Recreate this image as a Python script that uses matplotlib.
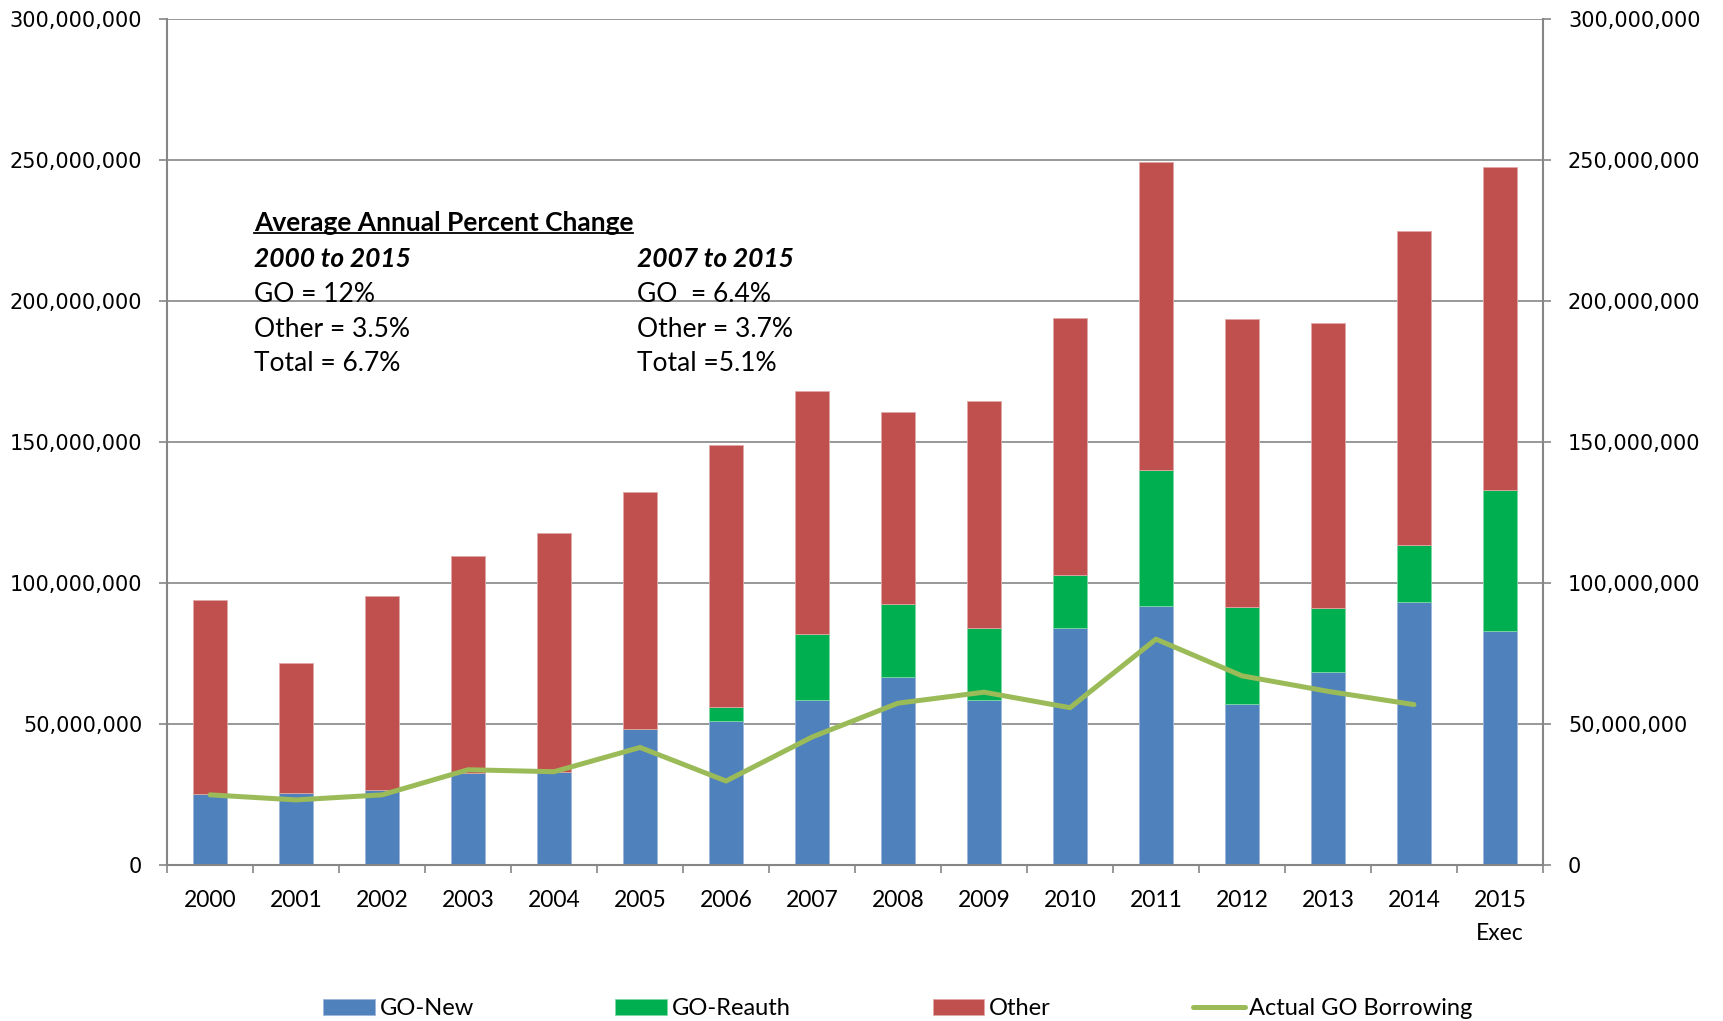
import numpy as np
import matplotlib
matplotlib.use("Agg")
import matplotlib.pyplot as plt
from matplotlib.ticker import FuncFormatter, MultipleLocator
from matplotlib.lines import Line2D

# ---------------------------------------------------------
# Data (millions of dollars)
# ---------------------------------------------------------
years = ["2000", "2001", "2002", "2003", "2004", "2005", "2006", "2007",
         "2008", "2009", "2010", "2011", "2012", "2013", "2014", "2015\nExec"]
go_new = [25.1, 25.4, 26.6, 32.5, 33.0, 48.1, 51.0, 58.5,
          66.7, 58.6, 83.9, 91.6, 57.0, 68.5, 93.1, 82.8]
go_reauth = [0, 0, 0, 0, 0, 0, 4.9, 23.4,
             25.9, 25.3, 18.8, 48.5, 34.4, 22.7, 20.2, 50.1]
other = [68.8, 46.1, 68.6, 77.0, 84.7, 84.0, 92.8, 86.0,
         67.8, 80.7, 91.3, 109.1, 102.2, 100.8, 111.3, 114.5]
actual_go = [24.8, 23.0, 24.8, 33.7, 33.0, 41.6, 29.7, 45.3,
             57.3, 61.2, 55.7, 80.0, 67.0, 61.5, 56.8]

M = 1e6
new = np.array(go_new) * M
reauth = np.array(go_reauth) * M
oth = np.array(other) * M
borrow = np.array(actual_go) * M
x = np.arange(len(years))

BLUE = "#4F81BD"
GREEN = "#00B050"
RED = "#C0504D"
LINE = "#9BBB59"
GRID = "#868686"

# ---------------------------------------------------------
# Figure
# ---------------------------------------------------------
fig = plt.figure(figsize=(17.23, 10.21), dpi=100)
ax = fig.add_axes([0.097, 0.153, 0.7985, 0.8287])

w = 0.4
ax.bar(x, new, w, color=BLUE, edgecolor="#9DB7D9", linewidth=0.6, label="GO-New", zorder=2)
ax.bar(x, reauth, w, bottom=new, color=GREEN, edgecolor="#7FD7A6", linewidth=0.6,
       label="GO-Reauth", zorder=2)
ax.bar(x, oth, w, bottom=new + reauth, color=RED, edgecolor="#E0A8A6", linewidth=0.6,
       label="Other", zorder=2)
ax.plot(x[:len(borrow)], borrow, color=LINE, linewidth=3.6, solid_capstyle="round",
        label="Actual GO Borrowing", zorder=3)

ax.set_xlim(-0.5, len(years) - 0.5)
ax.set_ylim(0, 300 * M)
ax.yaxis.set_major_locator(MultipleLocator(50 * M))
fmt = FuncFormatter(lambda v, p: f"{v:,.0f}")
ax.yaxis.set_major_formatter(fmt)
ax.grid(axis="y", color=GRID, linewidth=1.2, zorder=0)
ax.set_axisbelow(True)

# x ticks: labels at centers, tick marks at category borders
ax.set_xticks(x)
ax.set_xticklabels(years, fontfamily="Lato", fontsize=16.5, linespacing=1.7)
ax.set_xticks(np.arange(-0.5, len(years)), minor=True)
ax.tick_params(axis="x", which="major", length=0, pad=18)
ax.tick_params(axis="x", which="minor", length=6, width=1.2, color=GRID, direction="out")
ax.tick_params(axis="y", length=6, width=1.2, color=GRID, direction="out", pad=12,
               labelsize=15)

for side in ["top", "right"]:
    ax.spines[side].set_visible(False)
for side in ["left", "bottom"]:
    ax.spines[side].set_color(GRID)
    ax.spines[side].set_linewidth(1.5)

# right axis mirrors the left
ax2 = ax.twinx()
ax2.set_ylim(ax.get_ylim())
ax2.yaxis.set_major_locator(MultipleLocator(50 * M))
ax2.yaxis.set_major_formatter(fmt)
ax2.tick_params(axis="y", length=6, width=1.2, color=GRID, direction="out", pad=12,
                labelsize=15)
for side in ["top", "left", "bottom"]:
    ax2.spines[side].set_visible(False)
ax2.spines["right"].set_color(GRID)
ax2.spines["right"].set_linewidth(1.5)

# ---------------------------------------------------------
# Annotation block
# ---------------------------------------------------------
tf = dict(family="Lato", fontsize=19, va="center", ha="left")
x1, x2 = 0.1474, 0.3697
rows = [0.7816, 0.7463, 0.7115, 0.6771, 0.6437]
title = fig.text(x1, rows[0], "Average Annual Percent Change", fontweight="bold", **tf)
fig.text(x1, rows[1], "2000 to 2015", fontweight="bold", style="italic", **tf)
fig.text(x1, rows[2], "GO = 12%", **tf)
fig.text(x1, rows[3], "Other = 3.5%", **tf)
fig.text(x1, rows[4], "Total = 6.7%", **tf)
fig.text(x2, rows[1], "2007 to 2015", fontweight="bold", style="italic", **tf)
fig.text(x2, rows[2], "GO  = 6.4%", **tf)
fig.text(x2, rows[3], "Other = 3.7%", **tf)
fig.text(x2, rows[4], "Total =5.1%", **tf)

# underline the heading
renderer = fig.canvas.get_renderer()
bb = title.get_window_extent(renderer).transformed(fig.transFigure.inverted())
fig.add_artist(Line2D([bb.x0, bb.x1], [bb.y0 + 0.002, bb.y0 + 0.002],
                      transform=fig.transFigure, color="black", linewidth=1.3))

# ---------------------------------------------------------
# Legend
# ---------------------------------------------------------
h1, l1 = ax.get_legend_handles_labels()
order = [1, 2, 3, 0]
fig.legend([h1[i] for i in order], [l1[i] for i in order],
           loc="center", bbox_to_anchor=(0.521, 0.012), ncol=4, frameon=False,
           prop=dict(family="Lato", size=17), handlelength=2.2, handleheight=0.7,
           handletextpad=0.2, columnspacing=6.0)

fig.savefig("out.png", dpi=100)
